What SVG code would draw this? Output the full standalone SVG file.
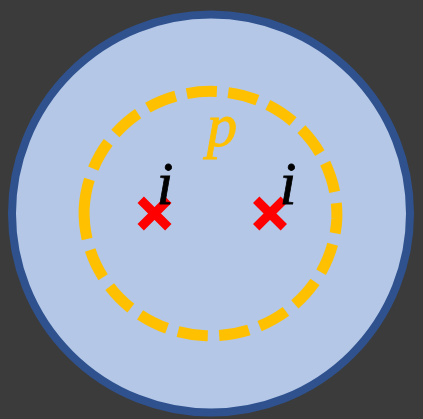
<svg xmlns="http://www.w3.org/2000/svg" width="423" height="419" viewBox="0 0 423 419">
<style>
.lbl{font-family:"Liberation Serif","DejaVu Serif",serif;font-style:italic;font-size:61px;text-anchor:middle;stroke-width:0.8}
.x{stroke:#ff0000;stroke-width:9;stroke-linecap:butt;fill:none}
</style>
<rect x="0" y="0" width="423" height="419" fill="#3b3b3b"/>
<g id="outer">
<circle cx="211" cy="213.5" r="199" fill="#b4c7e7" stroke="#2f528f" stroke-width="8"/>
</g>
<g id="region-p">
<path d="M84.1 209 A126.5 124 0 0 1 336.9 218.2 A126.5 124 0 0 1 84.1 209 Z" fill="none" stroke="#ffc000" stroke-width="11" stroke-dasharray="30.5 11.5" pathLength="786.5"/>
<text class="lbl" x="222" y="146" fill="#ffc000" stroke="#ffc000">p</text>
</g>
<g id="point1">
<path class="x" d="M140.7 199.7 L168.3 227.3 M168.3 199.7 L140.7 227.3"/>
<text class="lbl" x="165" y="204" fill="#000000" stroke="#000000">i</text>
</g>
<g id="point2">
<path class="x" d="M256.2 199.7 L283.8 227.3 M283.8 199.7 L256.2 227.3"/>
<text class="lbl" x="288" y="204" fill="#000000" stroke="#000000">i</text>
</g>
</svg>
